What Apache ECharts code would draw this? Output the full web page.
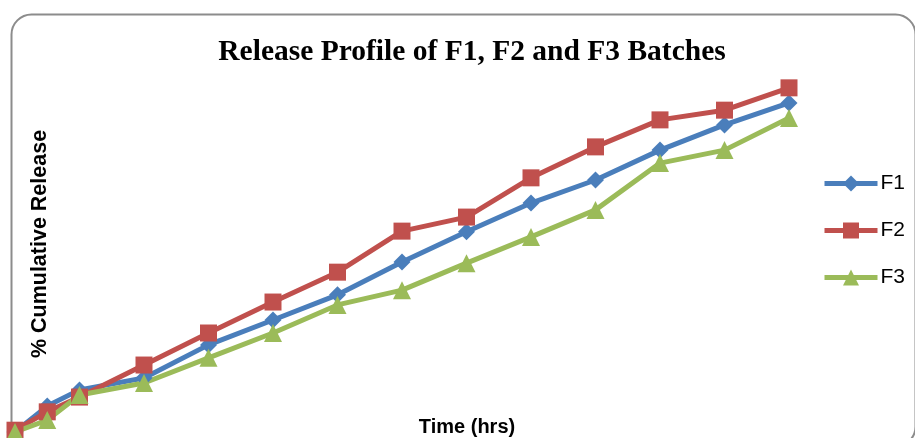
<!DOCTYPE html>
<html>
<head>
<meta charset="utf-8">
<script src="https://cdn.jsdelivr.net/npm/echarts@6/dist/echarts.min.js"></script>
<style>html,body{margin:0;padding:0;background:#fff}#c{width:915px;height:438px}</style>
</head>
<body>
<div id="c"></div>
<script>
const times = [0, 0.5, 1, 2, 3, 4, 5, 6, 7, 8, 9, 10, 11, 12];
const F1 = [0, 7.2, 11.7, 15.0, 24.2, 31.1, 38.1, 47.2, 55.6, 63.6, 70.0, 78.3, 85.3, 91.4];
const F2 = [0.5, 5.6, 9.7, 18.6, 27.5, 36.1, 44.4, 55.8, 59.7, 70.6, 79.2, 86.7, 89.4, 95.6];
const F3 = [0, 3.3, 10.3, 13.6, 20.6, 27.5, 35.3, 39.4, 46.9, 54.2, 61.7, 74.7, 78.3, 87.2];
const titleText = 'Release Profile of F1, F2 and F3 Batches';
const xName = 'Time (hrs)';
const yName = '% Cumulative Release';

const pair = arr => times.map((t, i) => [t, arr[i]]);
const chart = echarts.init(document.getElementById('c'));
function mk(name, data, color, symbol, size) {
  return {
    name, type: 'line', data: pair(data), clip: false,
    symbol, symbolSize: size,
    lineStyle: { width: 5, color },
    itemStyle: { color },
    emphasis: { disabled: true }
  };
}
chart.setOption({
  animation: false,
  title: {
    text: titleText, left: 467, top: 32, textAlign: 'center',
    textStyle: { fontFamily: 'Liberation Serif', fontWeight: 'bold', fontSize: 29.5, color: '#000' }
  },
  legend: {
    orient: 'vertical', left: 817, top: 168, itemGap: 26, itemWidth: 53, itemHeight: 20,
    lineStyle: { width: 5 },
    textStyle: { fontFamily: 'Liberation Sans', fontSize: 21, color: '#000', padding: [0, 0, 0, -2] },
    data: ['F1', 'F2', 'F3']
  },
  grid: { left: 15, right: 126, top: 72, bottom: 6 },
  xAxis: { type: 'value', min: 0, max: 12, show: false },
  yAxis: { type: 'value', min: 0, max: 100, show: false },
  graphic: [
    { type: 'rect', left: 9, top: 12, silent: true, z: -1,
      shape: { width: 904, height: 432, r: 20 },
      style: { fill: 'none', stroke: '#8c8c8c', lineWidth: 2 } },
    { type: 'text', x: 467, y: 427, silent: true,
      style: { text: xName, fill: '#000', font: 'bold 20px "Liberation Sans"', textAlign: 'center', textVerticalAlign: 'middle' } },
    { type: 'text', x: 40, y: 244, rotation: Math.PI / 2, silent: true,
      style: { text: yName, fill: '#000', font: 'bold 21.5px "Liberation Sans"', textAlign: 'center', textVerticalAlign: 'middle' } }
  ],
  series: [
    mk('F1', F1, '#4A7EBB', 'diamond', 17),
    mk('F2', F2, '#C0504D', 'rect', 17),
    mk('F3', F3, '#9BBB59', 'triangle', 18)
  ]
});
</script>
</body>
</html>
